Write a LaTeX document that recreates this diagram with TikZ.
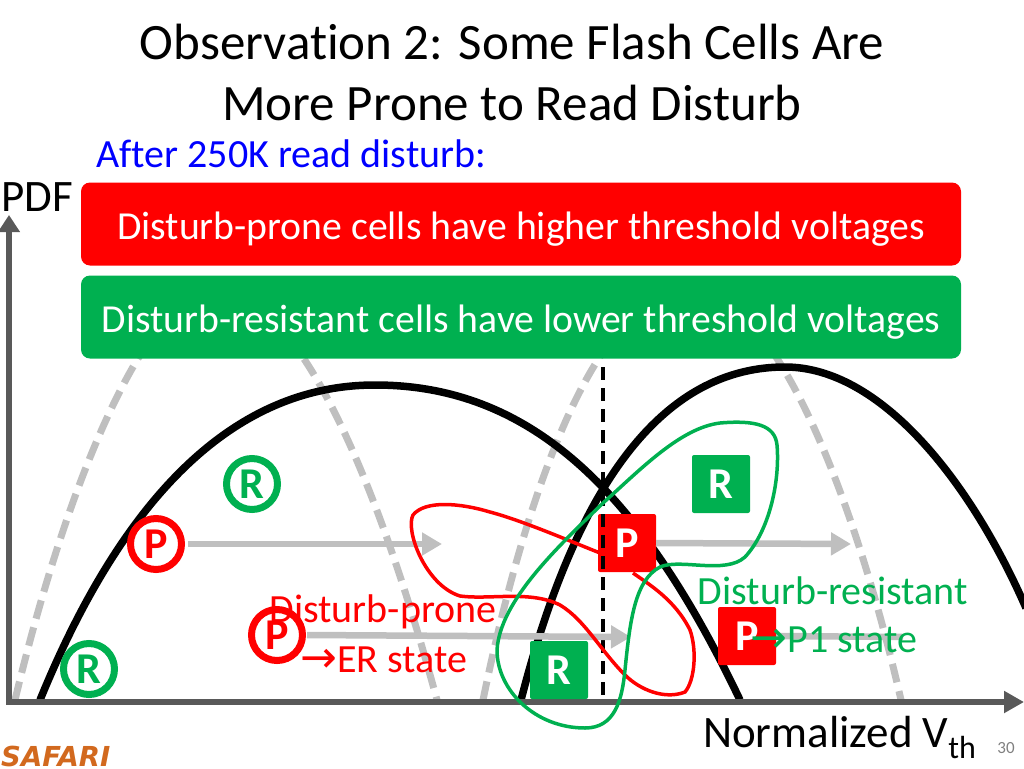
\documentclass[tikz,border=0pt]{standalone}
\usepackage{fontspec}
\setmainfont{Carlito}[Ligatures=NoCommon]
\newfontfamily\safarifont{DejaVu Sans}
\newfontfamily\arrowfont{DejaVu Sans}
\usetikzlibrary{arrows.meta}
\definecolor{cgreen}{HTML}{00B050}
\definecolor{cred}{HTML}{FF0000}
\definecolor{cgray}{HTML}{BFBFBF}
\definecolor{caxis}{HTML}{595959}
\definecolor{cblue}{HTML}{0000FF}
\definecolor{csafari}{HTML}{D2691E}
\newcommand{\bigarrow}{{\arrowfont\fontsize{44}{44}\selectfont →}}
\tikzset{
 txt/.style={inner sep=0pt,font=\fontsize{#1}{#1}\selectfont},
 banner/.style={fill=#1,rounded corners=9pt,inner sep=0pt,text=white,minimum height=83pt,minimum width=880pt,text depth=0pt,font=\fontsize{39.7}{40}\selectfont},
 squareP/.style={fill=cred,rounded corners=2pt,minimum size=58pt,inner sep=0pt,text=white,font=\bfseries\fontsize{44}{44}\selectfont},
 squareR/.style={fill=cgreen,rounded corners=2pt,minimum size=58pt,inner sep=0pt,text=white,font=\bfseries\fontsize{44}{44}\selectfont},
 circP/.style={draw=cred,line width=7pt,fill=white,circle,minimum size=51pt,inner sep=0pt,text=cred,font=\bfseries\fontsize{44}{44}\selectfont},
 circR/.style={draw=cgreen,line width=7pt,fill=white,circle,minimum size=51pt,inner sep=0pt,text=cgreen,font=\bfseries\fontsize{44}{44}\selectfont},
 ghost/.style={draw=cgray,line width=7pt,dash pattern=on 19pt off 9pt},
 curve/.style={draw=black,line width=7.5pt},
 moved/.style={draw=cgray,line width=6.5pt,-{Triangle[length=20pt,width=22pt]}},
 blob/.style={line width=3.5pt}
}
\begin{document}
\begin{tikzpicture}[x=1pt,y=-1pt]
\useasboundingbox (0,0) rectangle (1024,768);
% distributions
\draw[ghost] (15,700) .. controls (70,470) and (150,290) .. (215,290) .. controls (300,290) and (380,490) .. (437,700);
\draw[ghost] (483,700) .. controls (520,520) and (590,290) .. (690,290) .. controls (780,290) and (860,520) .. (901,700);
\draw[curve] (40,700) .. controls (130,480) and (245,385) .. (375,385) .. controls (530,385) and (640,490) .. (740,700);
\draw[curve] (521,700) .. controls (570,510) and (650,367) .. (785,367) .. controls (880,367) and (970,480) .. (1026,608);
% axes
\coordinate (origin) at (9,702);
\coordinate (ytop) at (9,215);
\coordinate (xstart) at (6,702);
\coordinate (xend) at (1024,702);
\draw[caxis,line width=6.5pt,-{Triangle[length=17pt,width=21pt]}] (origin) -- (ytop);
\draw[caxis,line width=6.5pt,-{Triangle[length=20pt,width=21pt]}] (xstart) -- (xend);
% read reference
\coordinate (vt) at (603,367);
\coordinate (vb) at (603,702);
\draw[black,line width=4pt,dash pattern=on 13pt off 8pt] (vt) -- (vb);
% cells
\node[circP] (pa) at (156,544) {P};
\node[circP] (pb) at (277,635) {P};
\node[circR] (ra) at (252,484) {R};
\node[circR] (rb) at (89,669) {R};
\node[squareP] (pc) at (627,543) {P};
\node[squareP] (pd) at (747,636) {P};
\node[squareR] (rc) at (721,484) {R};
\node[squareR] (rd) at (559,670) {R};
\coordinate (ta) at (442,544);
\coordinate (tb) at (851,544);
\coordinate (tc) at (631,637);
\coordinate (td) at (903,637);
\draw[moved] (pa) ++(32,0) -- (ta);
\draw[moved] (pc) ++(29,0) -- (tb);
\draw[moved] (pb) ++(30,0) -- (tc);
\draw[cgray,line width=6.5pt] (pd) ++(29,0) -- (td);
% vertical dashes re-drawn across P
\begin{scope}
\clip (598,514) rectangle (610,572);
\draw[black,line width=4pt,dash pattern=on 13pt off 8pt] (vt) -- (vb);
\end{scope}
% blobs
\draw[cred,blob] (600,553) .. controls (560,537) and (520,520) .. (490,512) .. controls (460,503) and (425,500) .. (413,515)
 .. controls (405,530) and (425,585) .. (460,596) .. controls (490,600) and (530,590) .. (560,605)
 .. controls (585,620) and (600,650) .. (625,675) .. controls (640,690) and (665,700) .. (685,692)
 .. controls (695,680) and (697,650) .. (690,630) .. controls (675,600) and (650,585) .. (633,573);
\draw[cgreen,blob] (777,445) .. controls (775,425) and (755,420) .. (720,423) .. controls (680,428) and (640,470) .. (603,503)
 .. controls (560,545) and (500,600) .. (497,650) .. controls (497,690) and (535,728) .. (585,728)
 .. controls (615,728) and (622,700) .. (625,670) .. controls (630,620) and (635,580) .. (660,567)
 .. controls (680,558) and (725,575) .. (745,557) .. controls (770,530) and (780,480) .. (777,445);
% texts
\node[txt=51] (title1) at (512,42) {Observation 2: Some Flash Cells Are};
\node[txt=51] (title2) at (512,103) {More Prone to Read Disturb};
\node[txt=40,text=cblue,anchor=west] (after) at (96,154) {After 250K read disturb:};
\node[txt=45,anchor=west] (pdf) at (1,197) {PDF};
\node[banner=cred] (b1) at (521,224) {\raisebox{-3pt}{Disturb-prone cells have higher threshold voltages}};
\node[banner=cgreen] (b2) at (521,317) {\raisebox{-3pt}{Disturb-resistant cells have lower threshold voltages}};
\node[txt=40,text=cred] (dp) at (383,612) {Disturb-prone};
\node[txt=40,text=cred] (er) at (384,660) {\bigarrow ER state};
\node[txt=40,text=cgreen] (dr) at (833,591) {Disturb-resistant};
\node[txt=40,text=cgreen] (p1) at (834,640) {\bigarrow P1 state};
\node[txt=45,anchor=west] (nv) at (703,737) {Normalized V\raisebox{-11pt}{\fontsize{32}{32}\selectfont th}};
\node[txt=17,text=gray] (num) at (1006,748) {30};
\node[inner sep=0pt,text=csafari,font=\safarifont\bfseries\itshape\fontsize{27.5}{28}\selectfont,anchor=west] (saf) at (1,756) {SAFARI};
\end{tikzpicture}
\end{document}
